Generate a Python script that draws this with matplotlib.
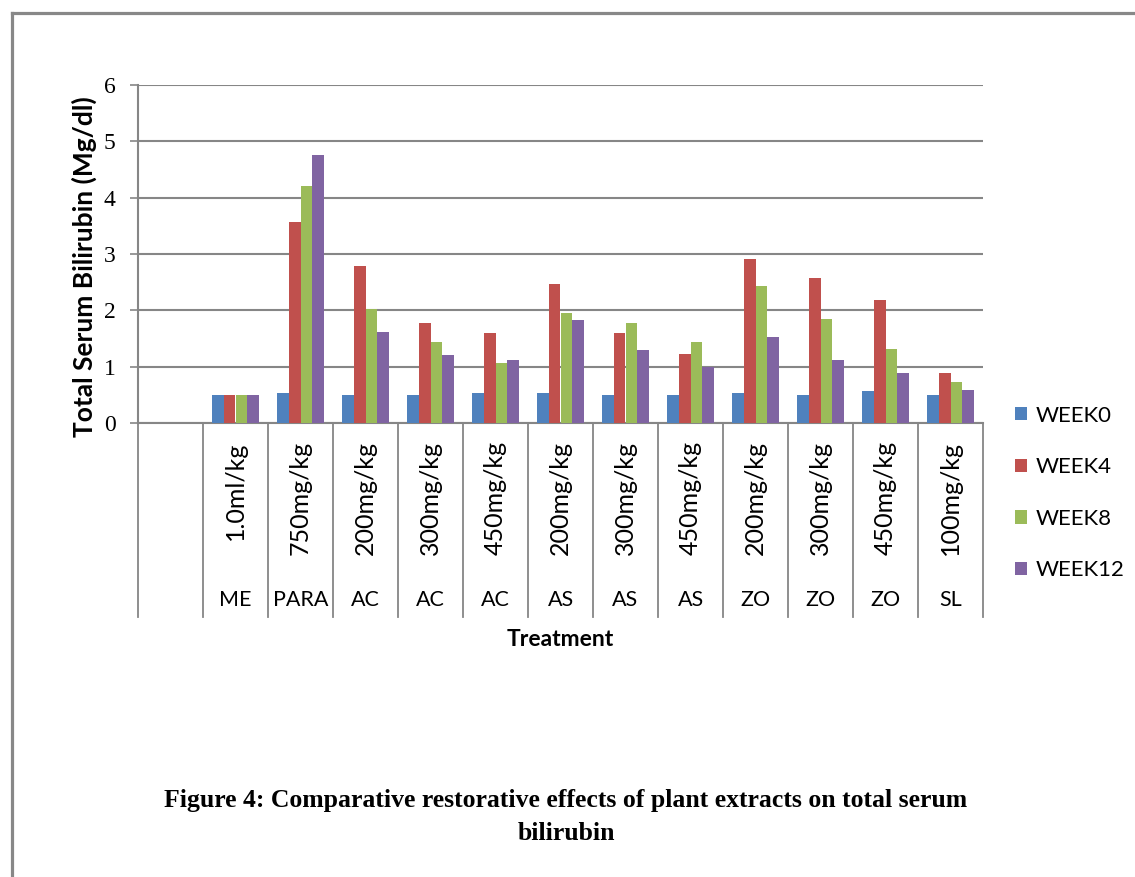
import numpy as np
import matplotlib
matplotlib.use('Agg')
import matplotlib.pyplot as plt
from matplotlib.lines import Line2D
from matplotlib.patches import Patch

# treatment groups: plant extract code and dose
groups = ['ME', 'PARA', 'AC', 'AC', 'AC', 'AS', 'AS', 'AS', 'ZO', 'ZO', 'ZO', 'SL']
doses = ['1.0ml/kg', '750mg/kg', '200mg/kg', '300mg/kg', '450mg/kg', '200mg/kg',
         '300mg/kg', '450mg/kg', '200mg/kg', '300mg/kg', '450mg/kg', '100mg/kg']

# total serum bilirubin (Mg/dl)
week0 = [0.49, 0.54, 0.50, 0.49, 0.54, 0.54, 0.50, 0.50, 0.54, 0.49, 0.56, 0.49]
week4 = [0.50, 3.56, 2.78, 1.78, 1.60, 2.46, 1.60, 1.23, 2.92, 2.58, 2.19, 0.89]
week8 = [0.50, 4.20, 2.03, 1.44, 1.07, 1.96, 1.78, 1.43, 2.44, 1.85, 1.32, 0.73]
week12 = [0.49, 4.76, 1.62, 1.21, 1.12, 1.83, 1.30, 1.00, 1.53, 1.12, 0.89, 0.59]

series = [week0, week4, week8, week12]
labels = ['WEEK0', 'WEEK4', 'WEEK8', 'WEEK12']
colors = ['#4F81BD', '#C0504D', '#9BBB59', '#8064A2']

grey = '#868686'
W, H = 1135, 877

fig = plt.figure(figsize=(W / 100, H / 100), dpi=100)
fig.patch.set_facecolor('white')
ax = fig.add_axes([138 / W, 1 - 423 / H, 845 / W, 338 / H])

# first slot on the category axis is left empty
n = len(groups)
centers = np.arange(n) + 1.5
bw = 0.18
for k, (vals, lab, col) in enumerate(zip(series, labels, colors)):
    ax.bar(centers + (k - 1.5) * bw, vals, width=bw, color=col, label=lab, zorder=3)

ax.set_xlim(0, n + 1)
ax.set_ylim(0, 6)
ax.set_yticks(range(7))
ax.set_yticklabels([str(v) for v in range(7)], family='Liberation Serif', fontsize=17)
ax.tick_params(axis='y', length=6, width=1.2, color=grey, pad=10)
ax.set_xticks([])
ax.grid(axis='y', color=grey, linewidth=1.5, zorder=0)
for side in ['top', 'right']:
    ax.spines[side].set_visible(False)
for side in ['left', 'bottom']:
    ax.spines[side].set_color(grey)
    ax.spines[side].set_linewidth(1.5)

ax.set_ylabel('Total Serum Bilirubin (Mg/dl)', family='Lato', fontweight='bold', fontsize=19)
ax.yaxis.set_label_coords(-0.049, 0.464)

# two-level category labels below the axis
trans = ax.get_xaxis_transform()
for i in range(n + 2):
    ax.plot([i, i], [0, -0.574], color=grey, linewidth=1.3, transform=trans, clip_on=False)
for c, g, d in zip(centers, groups, doses):
    ax.text(c, -0.054, d, transform=trans, rotation=90, ha='center', va='top',
            family='Lato', fontsize=18)
    ax.text(c, -0.524, g, transform=trans, ha='center', va='center',
            family='Lato', fontsize=15.5)
ax.text(0.5, -0.642, 'Treatment', transform=ax.transAxes, ha='center', va='center',
        family='Lato', fontweight='bold', fontsize=16.5)

handles = [Patch(facecolor=c, label=l) for c, l in zip(colors, labels)]
fig.legend(handles=handles, loc='center left', bbox_to_anchor=(995 / W, 1 - 493 / H),
           frameon=False, prop={'family': 'Lato', 'size': 16}, handlelength=0.55,
           handleheight=0.55, handletextpad=0.4, labelspacing=1.42)

fig.text(566 / W, 1 - 801 / H,
         'Figure 4: Comparative restorative effects of plant extracts on total serum',
         ha='center', va='center', family='Liberation Serif', fontweight='bold', fontsize=18.5)
fig.text(566 / W, 1 - 834 / H, 'bilirubin', ha='center', va='center',
         family='Liberation Serif', fontweight='bold', fontsize=18.5)

# frame around the figure
fig.add_artist(Line2D([12 / W, 1], [1 - 13 / H, 1 - 13 / H], transform=fig.transFigure,
                      color='#888888', linewidth=2.3))
fig.add_artist(Line2D([12 / W, 12 / W], [0, 1 - 13 / H], transform=fig.transFigure,
                      color='#888888', linewidth=2.3))

fig.savefig('out.png', dpi=100, facecolor='white')
